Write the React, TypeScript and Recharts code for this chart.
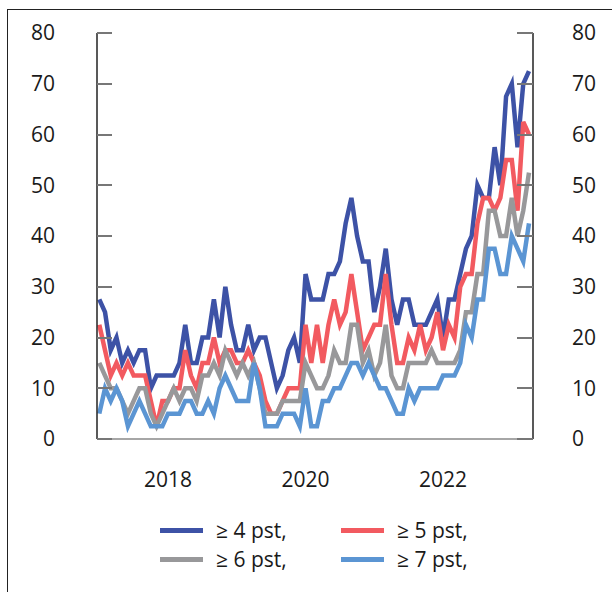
import React from "react";
import { LineChart, Line, XAxis, YAxis } from "recharts";

// monthly observations, first month and number of months
const firstYear = 2017;
const firstMonth = 7;

const ge4 = [
  27.5, 25, 17.5, 20, 15, 17.5, 15, 17.5, 17.5, 10,
  12.5, 12.5, 12.5, 12.5, 15, 22.5, 15, 15, 20, 20,
  27.5, 20, 30, 22.5, 17.5, 17.5, 22.5, 17.5, 20, 20,
  15, 10, 12.5, 17.5, 20, 15, 32.5, 27.5, 27.5, 27.5,
  32.5, 32.5, 35, 42.5, 47.5, 40, 35, 35, 25, 30,
  37.5, 27.5, 22.5, 27.5, 27.5, 22.5, 22.5, 22.5, 25, 27.5,
  20, 27.5, 27.5, 32.5, 37.5, 40, 50, 47.5, 47.5, 57.5,
  50, 67.5, 70, 57.5, 70, 72.5,
];

const ge5 = [
  22.5, 17.5, 12.5, 15, 12.5, 15, 12.5, 12.5, 12.5, 7.5,
  2.5, 7.5, 7.5, 10, 10, 17.5, 12.5, 10, 15, 15,
  20, 15, 17.5, 17.5, 15, 15, 17.5, 15, 12.5, 7.5,
  5, 5, 7.5, 10, 10, 10, 22.5, 15, 22.5, 15,
  22.5, 27.5, 22.5, 25, 32.5, 25, 17.5, 20, 22.5, 22.5,
  32.5, 22.5, 15, 15, 20, 17.5, 22.5, 17.5, 20, 25,
  17.5, 22.5, 20, 30, 32.5, 32.5, 42.5, 47.5, 47.5, 45,
  47.5, 55, 55, 45, 62.5, 60,
];

const ge6 = [
  15, 12.5, 10, 10, 7.5, 5, 7.5, 10, 10, 5,
  2.5, 5, 7.5, 10, 7.5, 10, 10, 7.5, 12.5, 12.5,
  15, 12.5, 17.5, 15, 12.5, 15, 12.5, 15, 10, 5,
  5, 5, 7.5, 7.5, 7.5, 7.5, 15, 12.5, 10, 10,
  12.5, 17.5, 15, 15, 22.5, 22.5, 15, 17.5, 12.5, 15,
  22.5, 12.5, 10, 10, 15, 15, 15, 15, 17.5, 15,
  15, 15, 15, 17.5, 25, 25, 32.5, 32.5, 45, 45,
  40, 40, 47.5, 40, 45, 52.5,
];

const ge7 = [
  5, 10, 7.5, 10, 7.5, 2.5, 5, 7.5, 5, 2.5,
  2.5, 2.5, 5, 5, 5, 7.5, 7.5, 5, 5, 7.5,
  5, 10, 12.5, 10, 7.5, 7.5, 7.5, 15, 10, 2.5,
  2.5, 2.5, 5, 5, 5, 2.5, 10, 2.5, 2.5, 7.5,
  7.5, 10, 10, 12.5, 15, 15, 12.5, 15, 12.5, 10,
  10, 7.5, 5, 5, 10, 7.5, 10, 10, 10, 10,
  12.5, 12.5, 12.5, 15, 22.5, 20, 27.5, 27.5, 37.5, 37.5,
  32.5, 32.5, 40, 37.5, 35, 42.5,
];

const yTicks = [0, 10, 20, 30, 40, 50, 60, 70, 80];
const yearTicks = [2018, 2020, 2022];

const series = [
  { key: "ge4", name: "≥ 4 pst,", color: "#3d52a6" },
  { key: "ge5", name: "≥ 5 pst,", color: "#f25a60" },
  { key: "ge6", name: "≥ 6 pst,", color: "#98989a" },
  { key: "ge7", name: "≥ 7 pst,", color: "#5b95d3" },
];

// t = months since Jan 2017, so mid-year of Y sits at (Y-2017)*12 + 6
const data = ge4.map((_, i) => ({
  t: (firstYear - 2017) * 12 + (firstMonth - 1) + i,
  ge4: ge4[i],
  ge5: ge5[i],
  ge6: ge6[i],
  ge7: ge7[i],
}));

// plot box (shared by the chart margins and the inward tick marks)
const W = 612;
const H = 592;
const plotTop = 33;
const plotBottom = 439;
const plotLeft = 97;
const plotRight = 533;
const yMax = 80;

const font = "'Open Sans', 'Noto Sans', sans-serif";
const fs = 21;
const tickText = { fill: "#1a1a1a", fontSize: fs, fontFamily: font };

const YearTick = (props: any) => {
  const { x, y, payload } = props;
  return (
    <text x={x} y={Number(y) + 41} dy="0.35em" textAnchor="middle" fill="#1a1a1a" fontSize={fs} fontFamily={font}>
      {2017 + Math.floor(payload.value / 12)}
    </text>
  );
};

function LegendItem({ name, color, left, top }: { name: string; color: string; left: number; top: number }) {
  return (
    <div style={{ position: "absolute", left, top, display: "flex", alignItems: "center" }}>
      <div style={{ width: 43, height: 5, background: color }} />
      <span style={{ marginLeft: 13, fontFamily: font, fontSize: fs, color: "#1a1a1a", lineHeight: "28px" }}>
        {name}
      </span>
    </div>
  );
}

function InwardTicks() {
  const toY = (v: number) => plotTop + ((yMax - v) / yMax) * (plotBottom - plotTop);
  return (
    <>
      {yTicks.map((v) => (
        <React.Fragment key={v}>
          <div style={{ position: "absolute", left: plotLeft, top: toY(v) - 1, width: 15, height: 2, background: "#777" }} />
          <div style={{ position: "absolute", left: plotRight - 16, top: toY(v) - 1, width: 16, height: 2, background: "#777" }} />
        </React.Fragment>
      ))}
    </>
  );
}

export default function App() {
  return (
    <div style={{ position: "fixed", left: 0, top: 0, width: W, height: H, overflow: "hidden", background: "#fff" }}>
      <div
        style={{
          position: "absolute",
          left: 7,
          top: 9,
          width: 700,
          height: 700,
          borderTop: "1px solid #222",
          borderLeft: "1px solid #222",
        }}
      />
      <div style={{ position: "absolute", left: 0, top: 0 }}>
        <LineChart
          width={W}
          height={H}
          data={data}
          margin={{ top: plotTop, right: 0, bottom: H - plotBottom - 60, left: 0 }}
        >
          <XAxis
            dataKey="t"
            type="number"
            domain={[5.6, 81.7]}
            ticks={yearTicks.map((y) => (y - 2017) * 12 + 6)}
            tick={<YearTick />}
            tickLine={false}
            tickSize={0}
            tickMargin={0}
            axisLine={{ stroke: "#888", strokeWidth: 1.5 }}
            height={60}
          />
          <YAxis
            yAxisId="l"
            width={plotLeft}
            domain={[0, yMax]}
            ticks={yTicks}
            tick={tickText}
            tickLine={false}
            tickSize={0}
            tickMargin={42}
            axisLine={{ stroke: "#222", strokeWidth: 1.5 }}
          />
          <YAxis
            yAxisId="r"
            orientation="right"
            width={W - plotRight}
            domain={[0, yMax]}
            ticks={yTicks}
            tick={tickText}
            tickLine={false}
            tickSize={0}
            tickMargin={39}
            axisLine={{ stroke: "#222", strokeWidth: 1.5 }}
          />
          {series.map((s) => (
            <Line
              key={s.key}
              yAxisId="l"
              type="linear"
              dataKey={s.key}
              name={s.name}
              stroke={s.color}
              strokeWidth={4.5}
              dot={false}
              activeDot={false}
              isAnimationActive={false}
            />
          ))}
          {/* hidden copy so the right-hand axis has data bound to it */}
          <Line
            yAxisId="r"
            dataKey="ge4"
            stroke="none"
            dot={false}
            activeDot={false}
            legendType="none"
            isAnimationActive={false}
          />
        </LineChart>
      </div>
      <InwardTicks />
      <LegendItem name={series[0].name} color={series[0].color} left={160} top={516} />
      <LegendItem name={series[1].name} color={series[1].color} left={341} top={516} />
      <LegendItem name={series[2].name} color={series[2].color} left={160} top={545} />
      <LegendItem name={series[3].name} color={series[3].color} left={341} top={545} />
    </div>
  );
}
